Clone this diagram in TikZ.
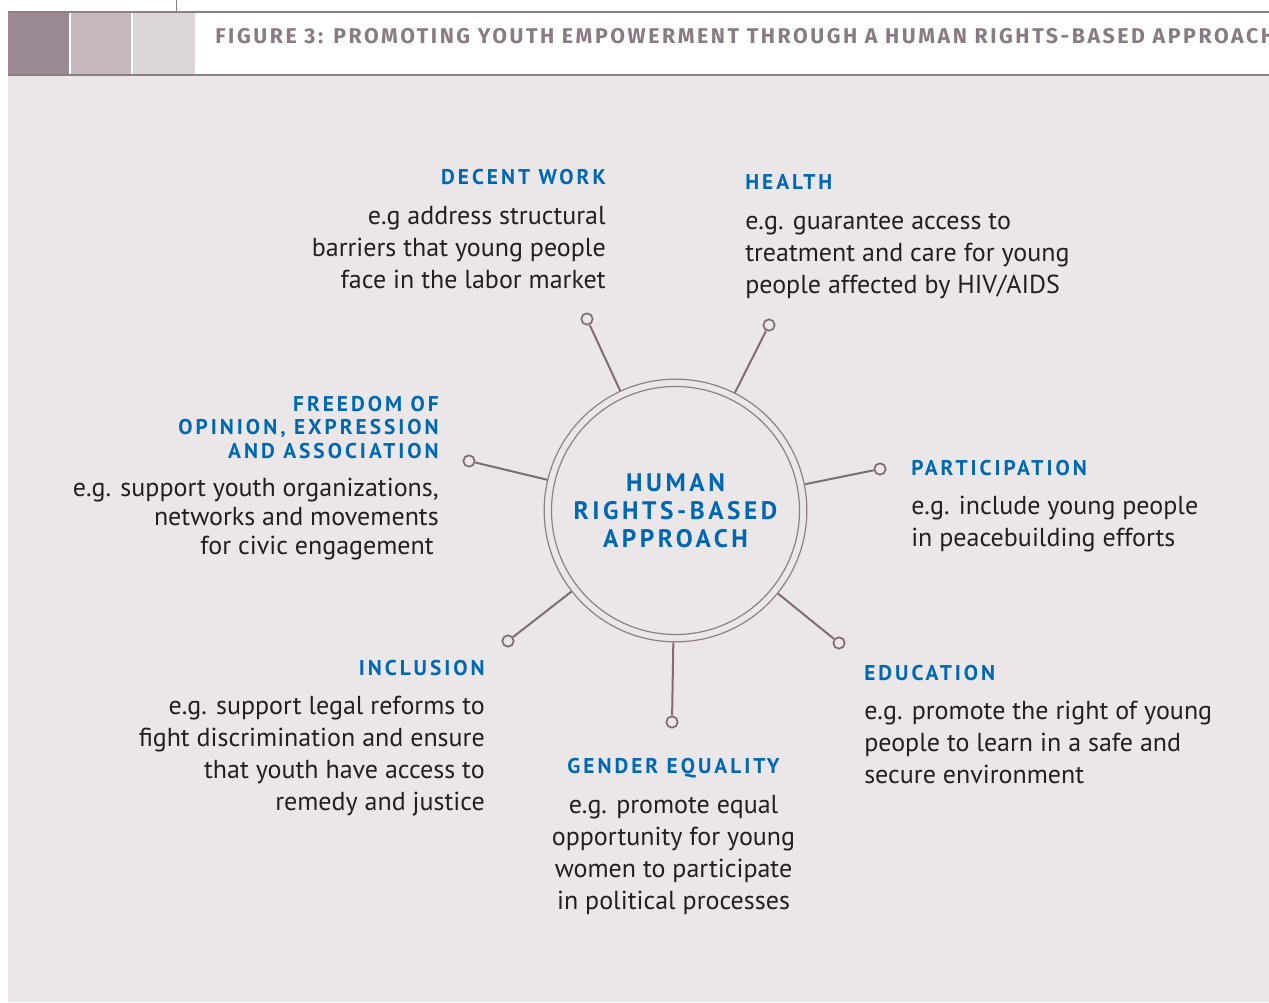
\documentclass[tikz,border=0pt]{standalone}
\usepackage{fontspec}
\setmainfont{PT Sans}
\newfontfamily\headfont[LetterSpace=14]{PT Sans}
\newfontfamily\titlefont[LetterSpace=12]{Fira Sans}
\usetikzlibrary{positioning}

\definecolor{panelbg}{RGB}{235,231,232}
\definecolor{blockdark}{RGB}{155,138,147}
\definecolor{blockmid}{RGB}{196,183,189}
\definecolor{blocklight}{RGB}{221,214,217}
\definecolor{rulegray}{RGB}{142,126,136}
\definecolor{titlegray}{RGB}{138,122,132}
\definecolor{spokegray}{RGB}{125,109,119}
\definecolor{hrblue}{RGB}{0,103,177}
\definecolor{bodyink}{RGB}{35,31,32}

\tikzset{
    heading/.style={
        font=\headfont\bfseries\fontsize{16}{17.6}\selectfont,
        text=hrblue,
        inner sep=0pt
    },
    bodytext/.style={
        font=\fontsize{19.5}{24}\selectfont,
        text=bodyink,
        inner sep=0pt
    },
    pinend/.style={
        circle,
        draw=spokegray,
        line width=1.3pt,
        fill=panelbg,
        minimum size=8.5pt,
        inner sep=0pt
    },
    spoke/.style={
        draw=spokegray,
        line width=1.5pt
    }
}

\begin{document}
\begin{tikzpicture}[
    x=0.75pt, y=0.75pt,
    hub/.style={
        circle,
        draw=rulegray,
        line width=0.9pt,
        minimum size=197pt,
        inner sep=0pt,
        align=center,
        text=hrblue,
        font=\headfont\bfseries\fontsize{19}{21}\selectfont
    }
]
\useasboundingbox (0,0) rectangle (1269,-1002);

% Kopfzeile
\fill[panelbg] (8,-76) rectangle (1269,-1002);
\fill[blockdark] (8,-13) rectangle (69,-74);
\fill[blockmid] (71,-13) rectangle (131,-74);
\fill[blocklight] (133,-13) rectangle (195,-74);
\draw[rulegray, line width=1.5pt] (8,-12.5) -- (1269,-12.5);
\draw[rulegray, line width=1.5pt] (8,-75) -- (1269,-75);
\draw[rulegray, line width=0.6pt] (176,0) -- (176,-12);
\begin{scope}
    \clip (195,-14) rectangle (1269,-74);
    \node[anchor=base west, inner sep=0pt, text=titlegray,
          font=\titlefont\bfseries\fontsize{16}{18}\selectfont]
        (title) at (215,-43.5)
        {FIGURE 3: PROMOTING YOUTH EMPOWERMENT THROUGH A HUMAN RIGHTS-BASED APPROACH};
\end{scope}

% Mitte
\node[hub] (hrba) at (675.5,-510.5) {HUMAN\\RIGHTS-BASED\\APPROACH};
\draw[rulegray, line width=0.9pt] (hrba.center) circle[radius=93pt];

% Speichen
\node[pinend] (pin-work)   at (587,-319) {};
\node[pinend] (pin-health) at (769,-325) {};
\node[pinend] (pin-part)   at (880,-469) {};
\node[pinend] (pin-edu)    at (839,-643) {};
\node[pinend] (pin-gender) at (672,-722) {};
\node[pinend] (pin-incl)   at (508,-641) {};
\node[pinend] (pin-free)   at (469,-461) {};
\foreach \p in {work,health,part,edu,gender,incl,free}
    \draw[spoke] (hrba) -- (pin-\p);

% Themen
\node[heading, anchor=base east] (work-head) at (606,-185) {DECENT WORK};
\node[bodytext, align=right, below=12.5pt of work-head.base east, anchor=north east] (work-text) {
    \strut e.g address structural\\
    barriers that young people\\
    face in the labor market
};

\node[heading, anchor=base west] (health-head) at (745,-189) {HEALTH};
\node[bodytext, align=left, below=13pt of health-head.base west, anchor=north west] (health-text) {
    \strut e.g. guarantee access to\\
    treatment and care for young\\
    people affected by HIV/AIDS
};

\node[heading, align=right, anchor=base east] (free-head) at (439,-458) {
    FREEDOM OF\\
    OPINION, EXPRESSION\\
    AND ASSOCIATION
};
\node[bodytext, align=right, font=\fontsize{19.5}{21.75}\selectfont,
      below=13.3pt of free-head.base east, anchor=north east] (free-text) {
    \strut e.g. support youth organizations,\\
    networks and movements\hspace{3.75pt}\\
    for civic engagement\hspace{3.75pt}
};

\node[heading, anchor=base west] (part-head) at (911,-475) {PARTICIPATION};
\node[bodytext, align=left, below=12.5pt of part-head.base west, anchor=north west] (part-text) {
    \strut e.g. include young people\\
    in peacebuilding efforts
};

\node[heading, anchor=base east] (incl-head) at (485,-675) {INCLUSION};
\node[bodytext, align=right, below=12.5pt of incl-head.base east, anchor=north east] (incl-text) {
    \strut e.g. support legal reforms to\\
    fight discrimination and ensure\\
    that youth have access to\\
    remedy and justice
};

\node[heading, anchor=base] (gender-head) at (673.5,-773) {GENDER EQUALITY};
\node[bodytext, align=center, below=13pt of gender-head.base, anchor=north] (gender-text) {
    \strut e.g. promote equal\\
    opportunity for young\\
    women to participate\\
    in political processes
};

\node[heading, anchor=base west] (edu-head) at (864,-680) {EDUCATION};
\node[bodytext, align=left, below=12.5pt of edu-head.base west, anchor=north west] (edu-text) {
    \strut e.g. promote the right of young\\
    people to learn in a safe and\\
    secure environment
};

\end{tikzpicture}
\end{document}
